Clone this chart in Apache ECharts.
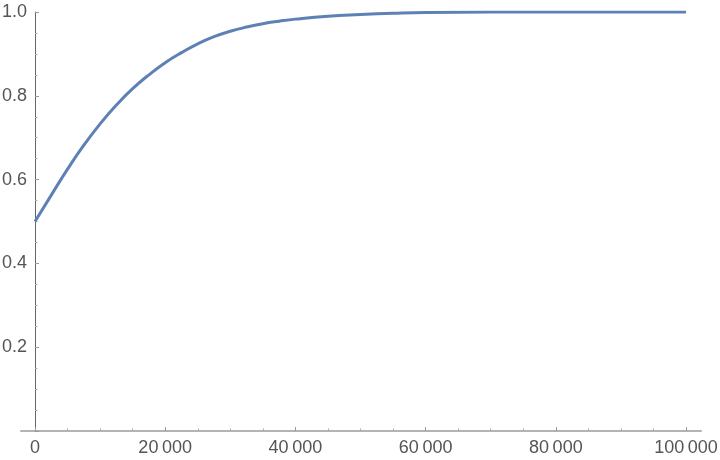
<!DOCTYPE html>
<html>
<head>
<meta charset="utf-8">
<script src="https://cdn.jsdelivr.net/npm/echarts@6/dist/echarts.min.js"></script>
<style>
  html, body { margin: 0; padding: 0; background: #fff; }
  #chart { width: 720px; height: 460px; }
</style>
</head>
<body>
<div id="chart"></div>
<script>
// values
const xValues = [0, 2500, 5000, 7500, 10000, 12500, 15000, 17500, 20000, 22500, 25000,
    27500, 30000, 32500, 35000, 37500, 40000, 45000, 50000, 55000, 60000, 70000, 80000, 90000, 100000];
const yValues = [0.500, 0.563, 0.625, 0.682, 0.733, 0.778, 0.817, 0.850, 0.879, 0.903, 0.924,
    0.941, 0.954, 0.964, 0.972, 0.978, 0.983, 0.990, 0.994, 0.997, 0.999, 1.0, 1.0, 1.0, 1.0];
const xTickLabels = [0, 20000, 40000, 60000, 80000, 100000];
const xMinorTicks = [5000, 10000, 15000, 25000, 30000, 35000, 45000, 50000, 55000,
    65000, 70000, 75000, 85000, 90000, 95000];

const labelColor = '#555';
const font = 'Liberation Sans, Arial, sans-serif';

function fmtThousands(v) {
    // Mathematica style digit blocks with a thin space
    const s = String(v);
    if (s.length <= 4) return s;
    return s.slice(0, s.length - 3) + '\u2009' + s.slice(s.length - 3);
}

let chart = echarts.init(document.getElementById('chart'));
const option = {
    animation: false,
    grid: {
        left: 21,
        right: 19,
        top: 12,
        bottom: 29,
        outerBoundsMode: 'none',
        containLabel: false
    },
    xAxis: [
        {
            type: 'value',
            min: -2150,
            max: 102300,
            splitLine: {show: false},
            axisLine: {onZero: true, lineStyle: {color: '#b3b3b3', width: 2}},
            axisTick: {
                show: true,
                inside: true,
                length: 4,
                customValues: xTickLabels,
                lineStyle: {color: '#999'}
            },
            axisLabel: {
                customValues: xTickLabels,
                formatter: fmtThousands,
                color: labelColor,
                fontFamily: font,
                fontSize: 18,
                margin: 8
            }
        },
        {
            type: 'value',
            position: 'bottom',
            min: -2150,
            max: 102300,
            splitLine: {show: false},
            axisLine: {show: false},
            axisTick: {
                show: true,
                inside: true,
                length: 2.5,
                customValues: xMinorTicks,
                lineStyle: {color: '#aaa'}
            },
            axisLabel: {show: false}
        }
    ],
    yAxis: {
        type: 'value',
        min: 0,
        max: 1,
        interval: 0.2,
        splitLine: {show: false},
        axisLine: {show: true, onZero: true, onZeroAxisIndex: 0, lineStyle: {color: '#666', width: 1}},
        axisTick: {show: true, inside: true, length: 4, lineStyle: {color: '#999'}},
        minorTick: {show: true, splitNumber: 4, length: 2.5, lineStyle: {color: '#aaa'}},
        axisLabel: {
            color: labelColor,
            fontFamily: font,
            fontSize: 18,
            margin: -6,
            formatter: function (v) {
                return v === 0 ? '' : v.toFixed(1);
            }
        }
    },
    series: [
        {
            type: 'line',
            xAxisIndex: 0,
            data: xValues.map((x, i) => [x, yValues[i]]),
            smooth: true,
            showSymbol: false,
            lineStyle: {color: '#5e81b5', width: 3},
            z: 3
        }
    ]
};

chart.setOption(option);

window.addEventListener('resize', function () {
    chart.resize();
});
</script>
</body>
</html>
